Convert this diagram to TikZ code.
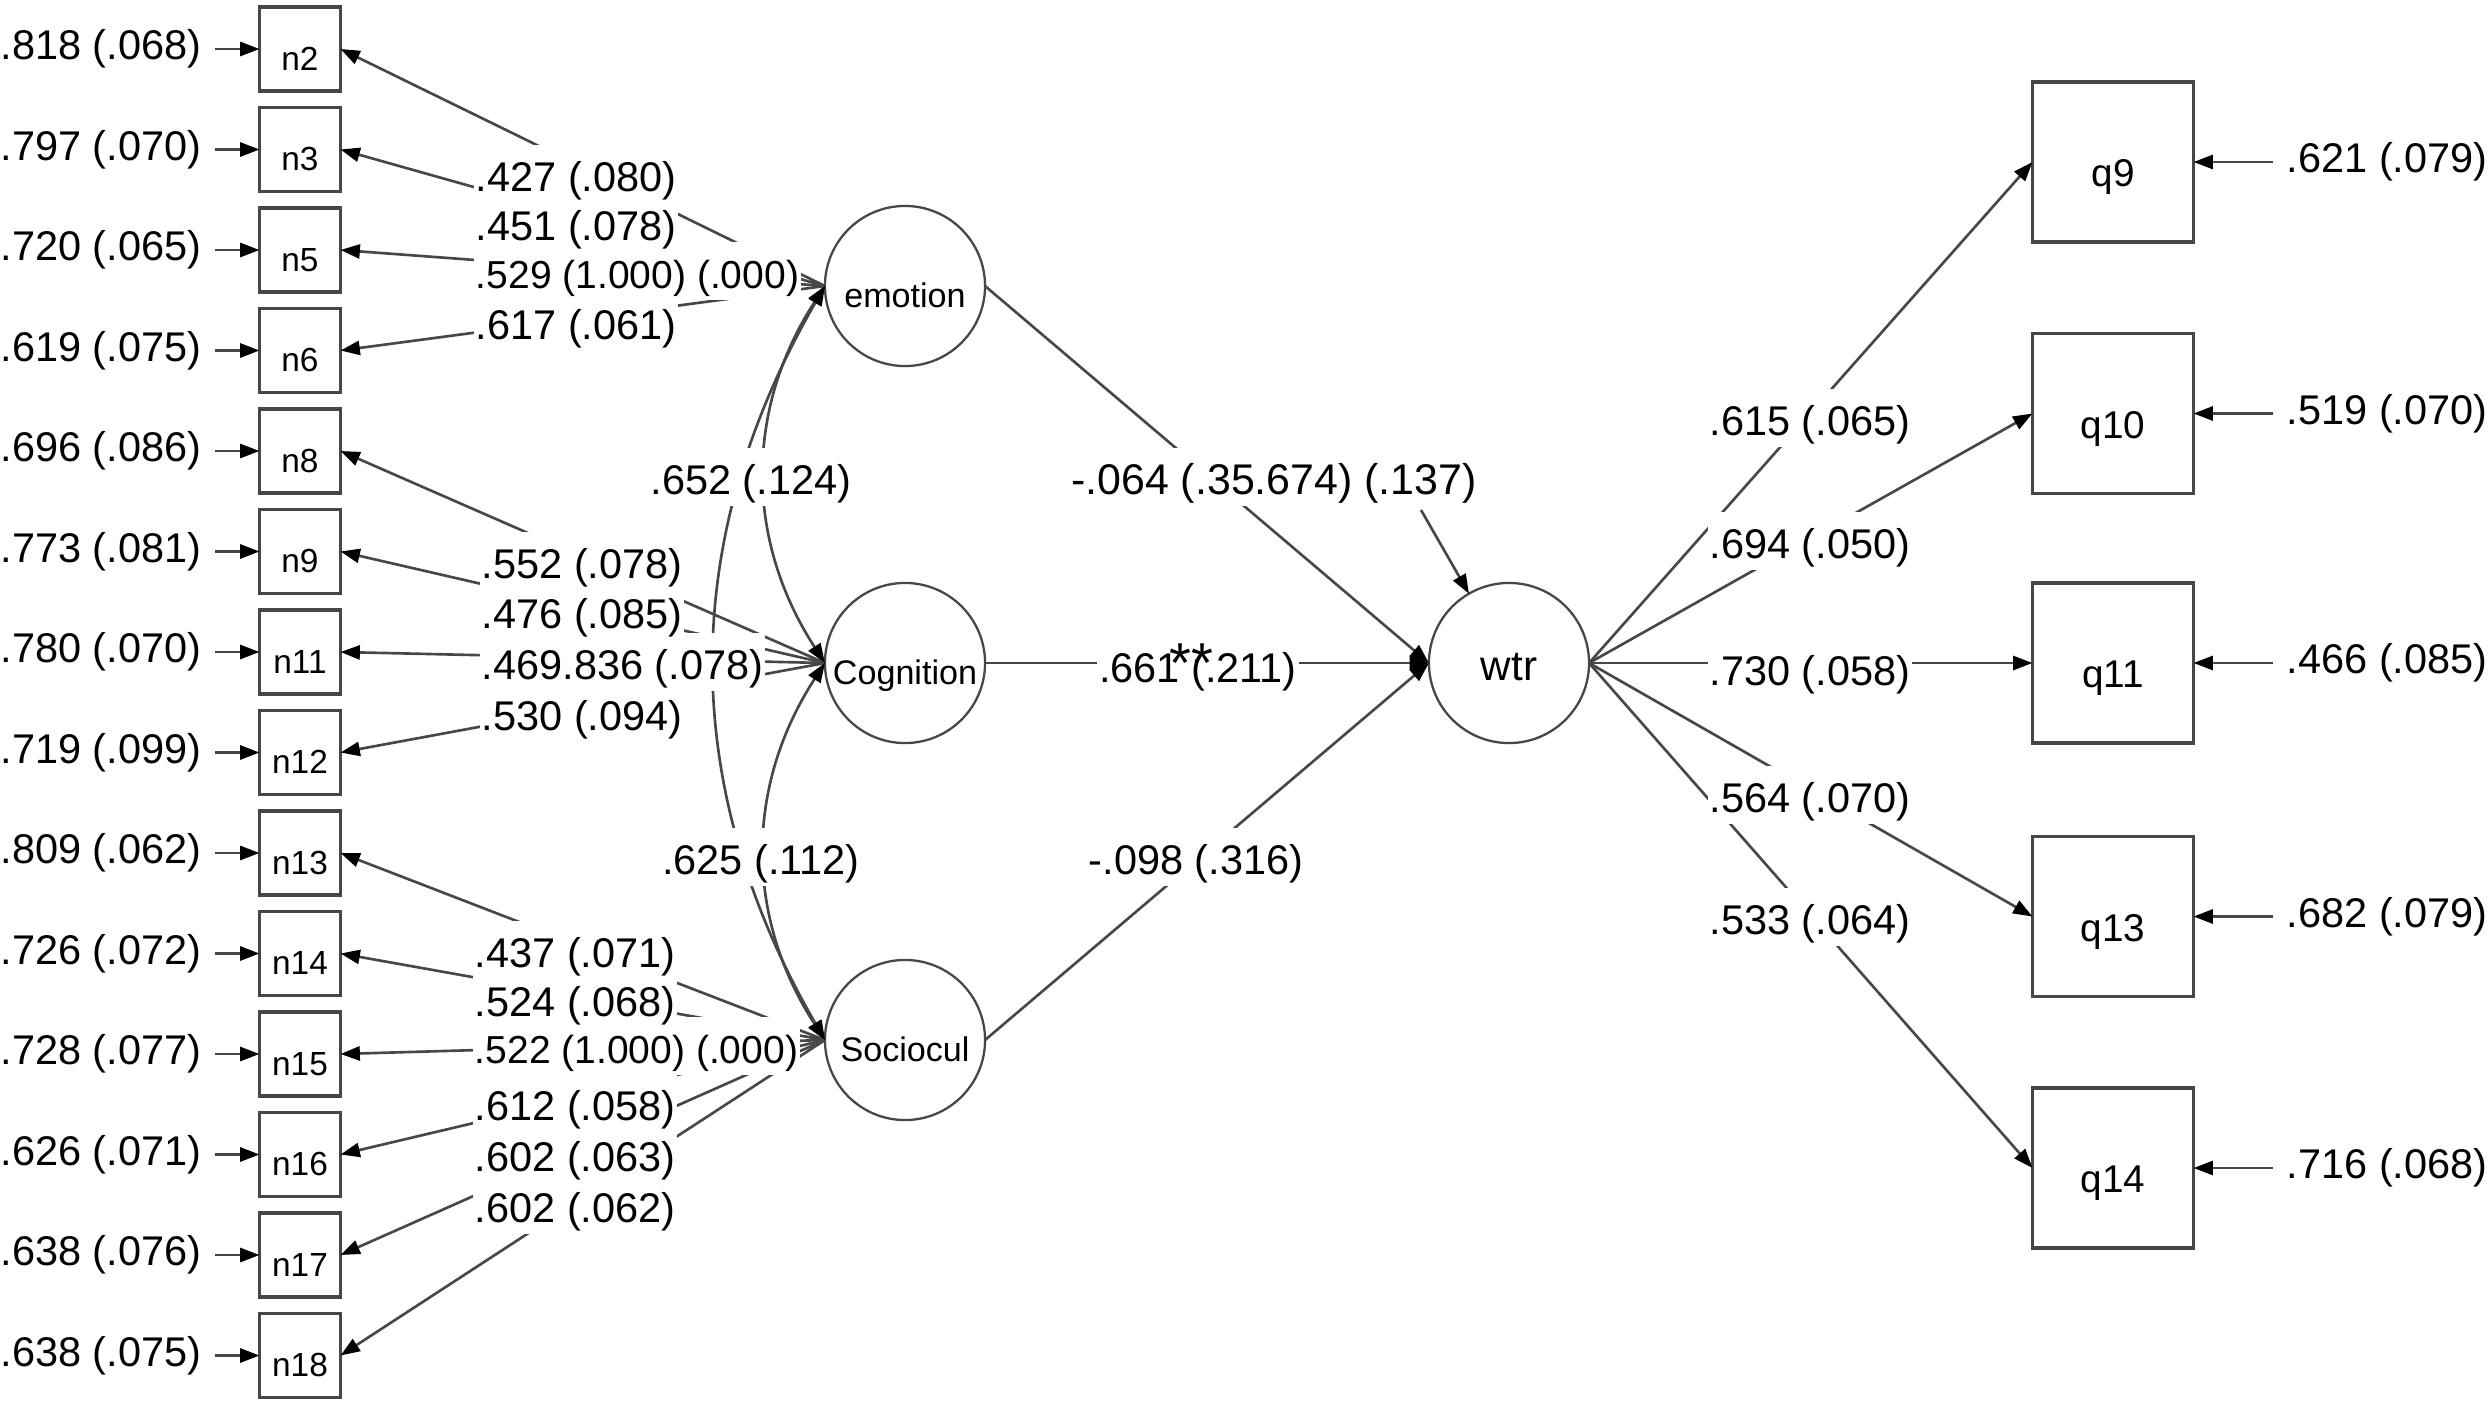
\documentclass[tikz,border=0pt]{standalone}
\usepackage{fontspec}
\setmainfont{Liberation Sans}
\usetikzlibrary{arrows.meta,calc}
\begin{document}
\begin{tikzpicture}[x=0.01cm,y=-0.01cm,
  every node/.style={inner sep=0pt,outer sep=0pt},
  obs/.style={draw=black!72,line width=1pt,fill=white,minimum width=0.81cm,minimum height=0.84cm,
    font=\fontsize{9.5}{9.5}\selectfont,text height=12pt,text depth=0pt},
  obsq/.style={draw=black!72,line width=1pt,fill=white,minimum width=1.61cm,minimum height=1.60cm,
    font=\fontsize{11}{11}\selectfont,text height=14pt,text depth=0pt},
  lat/.style={circle,draw=black!72,line width=0.65pt,fill=white,minimum size=1.6cm,
    font=\fontsize{9.7}{9.7}\selectfont,text height=12.5pt,text depth=0pt},
  lbl/.style={fill=white,inner xsep=0.5pt,inner ysep=0.5pt,font=\fontsize{11.8}{12}\selectfont,
    text height=12.8pt,text depth=2.7pt,yshift=0.04cm},
  longlbl/.style={lbl,font=\fontsize{11.1}{12}\selectfont},
  rlbl/.style={inner sep=0.5pt,font=\fontsize{11.8}{12}\selectfont},
  tip/.style={-{Triangle[length=5.5pt,width=4pt,color=black]}},
  arr/.style={draw=black!72,line width=0.75pt,tip},
  dbl/.style={draw=black!72,line width=0.75pt,{Triangle[length=5.5pt,width=4pt,color=black]}-{Triangle[length=5.5pt,width=4pt,color=black]}},
]
\useasboundingbox (0,0) rectangle (2490,1412);

% observed indicators (left)
\foreach \n [count=\i from 0] in {2,3,5,6,8,9,11,12,13,14,15,16,17,18}
  \node[obs] (n\n) at (300,{49+100.5*\i}) {n\n};

% latent variables
\node[lat] (emotion) at (905,286) {emotion};
\node[lat] (Cognition) at (905,663) {Cognition};
\node[lat] (Sociocul) at (905,1040) {Sociocul};
\node[lat,font=\fontsize{12}{12}\selectfont,text height=10pt] (wtr) at (1509,663) {wtr};

% observed indicators (right)
\node[obsq] (q9) at (2113,162) {q9};
\node[obsq] (q10) at (2113,413.5) {q10};
\node[obsq] (q11) at (2113,663) {q11};
\node[obsq] (q13) at (2113,916.5) {q13};
\node[obsq] (q14) at (2113,1168) {q14};

% loadings
\foreach \n in {2,3,5,6} \draw[arr] (emotion.west) -- (n\n.east);
\foreach \n in {8,9,11,12} \draw[arr] (Cognition.west) -- (n\n.east);
\foreach \n in {13,14,15,16,17,18} \draw[arr] (Sociocul.west) -- (n\n.east);

% covariances
\draw[dbl] (emotion.west) to[bend right=30] (Sociocul.west);
\draw[dbl] (emotion.west) to[bend right=33] (Cognition.west);
\draw[dbl] (Cognition.west) to[bend right=33] (Sociocul.west);

% structural paths
\draw[arr] (emotion.east) -- (wtr.west);
\draw[arr] (Cognition.east) -- (wtr.west);
\draw[arr] (Sociocul.east) -- (wtr.west);
\coordinate (ewtr) at (1421,510);
\draw[arr] (ewtr) -- (wtr.120);

% wtr loadings
\foreach \q in {9,10,11,13,14} \draw[arr] (wtr.east) -- (q\q.west);

% left residuals
\foreach \n/\t [count=\i from 0] in {2/{.818 (.068)},3/{.797 (.070)},5/{.720 (.065)},6/{.619 (.075)},
   8/{.696 (.086)},9/{.773 (.081)},11/{.780 (.070)},12/{.719 (.099)},13/{.809 (.062)},14/{.726 (.072)},
   15/{.728 (.077)},16/{.626 (.071)},17/{.638 (.076)},18/{.638 (.075)}}
{
  \node[rlbl,anchor=east] (r\n) at (203,{49+100.5*\i}) {\t};
  \draw[arr,shorten <=3.5pt] (r\n.east) -- (n\n.west);
}

% right residuals
\foreach \q/\t/\y in {9/{.621 (.079)}/162,10/{.519 (.070)}/413.5,11/{.466 (.085)}/663,13/{.682 (.079)}/916.5,14/{.716 (.068)}/1168}
{
  \node[rlbl,anchor=west] (s\q) at (2285,\y) {\t};
  \draw[arr,shorten <=3.5pt] (s\q.west) -- (q\q.east);
}

% emotion loading labels (bottom to top)
\node[lbl,anchor=west] (l6) at (474,326) {.617 (.061)};
\node[longlbl,anchor=west] (l5) at (474,275) {.529 (1.000) (.000)};
\node[lbl,anchor=west] (l3) at (474,227) {.451 (.078)};
\node[lbl,anchor=west] (l2) at (474,178) {.427 (.080)};

% cognition loading labels
\node[lbl,anchor=west] (l12) at (480,717) {.530 (.094)};
\node[lbl,anchor=west] (l11) at (480,666) {.469.836 (.078)};
\node[lbl,anchor=west] (l9) at (480,615) {.476 (.085)};
\node[lbl,anchor=west] (l8) at (480,565) {.552 (.078)};

% sociocul loading labels
\node[lbl,anchor=west] (l18) at (473,1209) {.602 (.062)};
\node[lbl,anchor=west] (l17) at (473,1158) {.602 (.063)};
\node[lbl,anchor=west] (l16) at (473,1107) {.612 (.058)};
\node[longlbl,anchor=west] (l15) at (473,1050) {.522 (1.000) (.000)};
\node[lbl,anchor=west] (l14) at (473,1003) {.524 (.068)};
\node[lbl,anchor=west] (l13) at (473,954) {.437 (.071)};

% covariance labels
\node[lbl] (c1) at (751,481) {.652 (.124)};
\node[lbl] (c2) at (761,861) {.625 (.112)};

% structural labels
\node[lbl,font=\fontsize{12.2}{12}\selectfont] (b1) at (1274,481) {-.064 (.35.674) (.137)};
\node[lbl] (b2) at (1198,669) {.661 \makebox[0pt]{\fontsize{16}{16}\selectfont **}(.211)};
\node[lbl] (b3) at (1196,861) {-.098 (.316)};

% wtr loading labels (bottom to top)
\node[lbl] (p14) at (1810,921) {.533 (.064)};
\node[lbl] (p13) at (1810,799) {.564 (.070)};
\node[lbl] (p11) at (1810,672) {.730 (.058)};
\node[lbl] (p10) at (1810,545) {.694 (.050)};
\node[lbl] (p9) at (1810,422) {.615 (.065)};
\end{tikzpicture}
\end{document}
